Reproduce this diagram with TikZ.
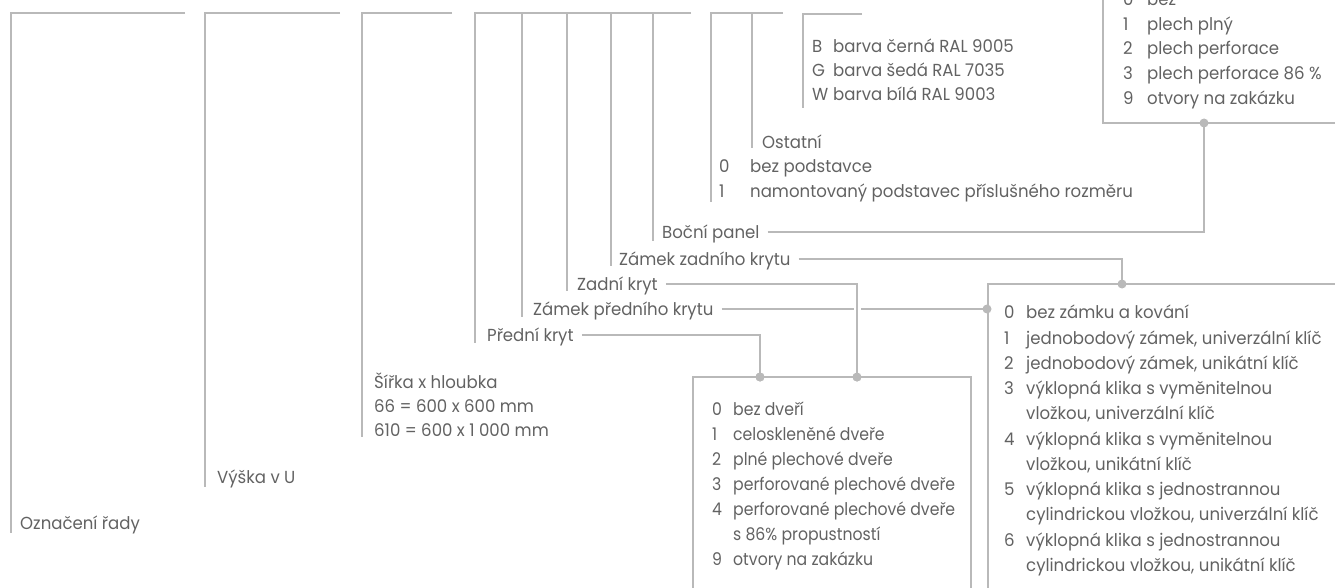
\documentclass[tikz,border=0pt]{standalone}
\usepackage{fontspec}
\setmainfont{Poppins}[FakeStretch=0.95]
\newfontfamily\narrowf{Poppins}[FakeStretch=0.9]
\definecolor{txt}{RGB}{98,98,98}
\definecolor{ln}{RGB}{185,185,185}
\newcommand\ritem[3]{\makebox[#1][l]{#2}#3}
\begin{document}
\begin{tikzpicture}[x=1bp,y=-1bp,
  every node/.style={font=\fontsize{17.5}{21}\selectfont, text=txt},
  lbl/.style={anchor=west, inner xsep=0pt, inner ysep=0pt, text height=13bp, text depth=0bp},
  doorlbl/.style={lbl, font=\narrowf\fontsize{17.5}{21}\selectfont},
  conn/.style={draw=ln, line width=2.2bp},
  lead/.style={conn, shorten <=8bp},
  boxline/.style={draw=ln, line width=1.2bp},
  dot/.style={circle, fill=ln, inner sep=0pt, minimum size=9bp},
  halo/.style={preaction={draw=white, line width=7bp}}
]
\useasboundingbox (0,0) rectangle (1335,588);

% ---- brackets (leaders from the code) ----
\draw[conn] (185,13) -- (11,13) -- (11,533);
\draw[conn] (340,13) -- (205,13) -- (205,487);
\draw[conn] (452,13) -- (362,13) -- (362,437);
\draw[conn] (691,13) -- (475,13) -- (475,343);
\draw[conn] (522,13) -- (522,317);
\draw[conn] (567,13) -- (567,291);
\draw[conn] (611,13) -- (611,266);
\draw[conn] (653,13) -- (653,241);
\draw[conn] (783,13) -- (711,13) -- (711,202);
\draw[conn] (752,13) -- (752,148);
\draw[conn] (862,14) -- (803,14) -- (803,108);

% ---- simple labels ----
\node[lbl] (rada) at (20,523) {Označení řady};
\node[lbl] (vyska) at (217,477) {Výška v U};
\node[lbl] (sirka1) at (374,382) {Šířka x hloubka};
\node[lbl] (sirka2) at (374,406) {66 = 600 x 600 mm};
\node[lbl] (sirka3) at (374,429.5) {610 = 600 x 1 000 mm};

\node[lbl] (ostatni) at (762,142) {Ostatní};
\node[lbl] (pod0) at (719,166) {\ritem{31bp}{0}{bez podstavce}};
\node[lbl] (pod1) at (719,191) {\ritem{31bp}{1}{namontovaný podstavec příslušného rozměru}};

\node[lbl] (barB) at (812,46.5) {\ritem{21bp}{B}{barva černá RAL 9005}};
\node[lbl] (barG) at (812,70.5) {\ritem{21bp}{G}{barva šedá RAL 7035}};
\node[lbl] (barW) at (812,94.5) {\ritem{21bp}{W}{barva bílá RAL 9003}};

% ---- labels with connectors ----
\node[lbl] (pk) at (487,335) {Přední kryt};
\node[lbl] (zpk) at (533,309) {Zámek předního krytu};
\node[lbl] (zk) at (577,284) {Zadní kryt};
\node[lbl] (zzk) at (619,259) {Zámek zadního krytu};
\node[lbl] (bp) at (662,232) {Boční panel};

% ---- boxes ----
\draw[boxline] (1103,-5) -- (1103,123) -- (1340,123);
\draw[boxline] (1340,284) -- (988,284) -- (988,595);
\draw[boxline] (693,595) -- (693,377) -- (971,377) -- (971,595);

% ---- dots ----
\node[dot] (dA) at (760,377) {};
\node[dot] (dB) at (857,377) {};
\node[dot] (dC) at (987,309) {};
\node[dot] (dD) at (1122,284) {};
\node[dot] (dE) at (1204,123) {};

% ---- connectors ----
\draw[lead] (bp.east) -| (dE.center);
\draw[lead] (zzk.east) -| (dD.center);
\draw[lead] (zpk.east) -- (dC.center);
\draw[lead, halo] (zk.east) -| (dB.center);
\draw[lead] (pk.east) -| (dA.center);
\node[dot] at (dB) {};
\node[dot] at (dA) {};

% ---- top right box (panel) ----
\node[lbl] (bok0) at (1123,-1) {\ritem{24bp}{0}{bez}};
\node[lbl] (bok1) at (1123,24) {\ritem{24bp}{1}{plech plný}};
\node[lbl] (bok2) at (1123,48.5) {\ritem{24bp}{2}{plech perforace}};
\node[lbl] (bok3) at (1123,73) {\ritem{24bp}{3}{plech perforace 86 \%}};
\node[lbl] (bok9) at (1123,98) {\ritem{24bp}{9}{otvory na zakázku}};

% ---- door box ----
\node[doorlbl] (dv0) at (712,409) {\ritem{21bp}{0}{bez dveří}};
\node[doorlbl] (dv1) at (712,434) {\ritem{21bp}{1}{celoskleněné dveře}};
\node[doorlbl] (dv2) at (712,459) {\ritem{21bp}{2}{plné plechové dveře}};
\node[doorlbl] (dv3) at (712,484) {\ritem{21bp}{3}{perforované plechové dveře}};
\node[doorlbl] (dv4) at (712,509) {\ritem{21bp}{4}{perforované plechové dveře}};
\node[doorlbl] (dv4b) at (712,534) {\ritem{21bp}{}{s 86\% propustností}};
\node[doorlbl] (dv9) at (712,559) {\ritem{21bp}{9}{otvory na zakázku}};

% ---- lock box ----
\node[lbl] (zm0) at (1004,312.3) {\ritem{22bp}{0}{bez zámku a kování}};
\node[lbl] (zm1) at (1004,337.5) {\ritem{22bp}{1}{jednobodový zámek, univerzální klíč}};
\node[lbl] (zm2) at (1004,362.8) {\ritem{22bp}{2}{jednobodový zámek, unikátní klíč}};
\node[lbl] (zm3) at (1004,388) {\ritem{22bp}{3}{výklopná klika s vyměnitelnou}};
\node[lbl] (zm3b) at (1004,413.3) {\ritem{22bp}{}{vložkou, univerzální klíč}};
\node[lbl] (zm4) at (1004,438.5) {\ritem{22bp}{4}{výklopná klika s vyměnitelnou}};
\node[lbl] (zm4b) at (1004,463.8) {\ritem{22bp}{}{vložkou, unikátní klíč}};
\node[lbl] (zm5) at (1004,489) {\ritem{22bp}{5}{výklopná klika s jednostrannou}};
\node[lbl] (zm5b) at (1004,514.3) {\ritem{22bp}{}{cylindrickou vložkou, univerzální klíč}};
\node[lbl] (zm6) at (1004,539.5) {\ritem{22bp}{6}{výklopná klika s jednostrannou}};
\node[lbl] (zm6b) at (1004,564.8) {\ritem{22bp}{}{cylindrickou vložkou, unikátní klíč}};
\end{tikzpicture}
\end{document}
